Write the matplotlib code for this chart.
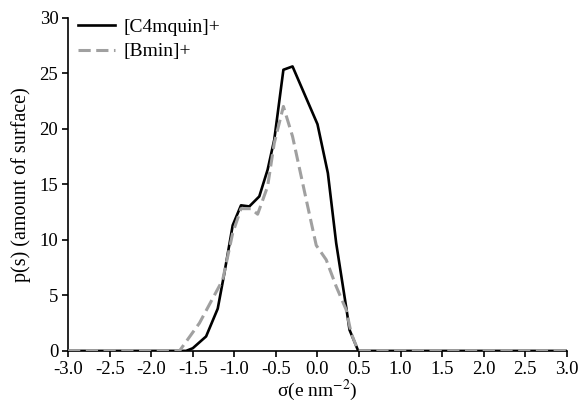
import numpy as np
import matplotlib
matplotlib.use("Agg")
import matplotlib.pyplot as plt

plt.rcParams['font.family'] = ['Liberation Serif', 'DejaVu Serif']
plt.rcParams['mathtext.fontset'] = 'stix'
plt.rcParams['axes.unicode_minus'] = False

# sigma profile values
sigma_c4 = [-3.0, -1.66, -1.58, -1.50, -1.34, -1.20, -1.12, -1.02, -0.92, -0.82,
            -0.70, -0.60, -0.52, -0.41, -0.30, 0.0, 0.125, 0.225, 0.35, 0.385, 0.49, 3.0]
p_c4 = [0.0, 0.0, 0.0, 0.24, 1.3, 3.8, 7.0, 11.3, 13.1, 13.0,
        13.9, 16.3, 19.0, 25.3, 25.6, 20.4, 16.0, 9.7, 3.7, 1.9, 0.0, 0.0]

sigma_bm = [-3.0, -1.66, -1.42, -1.14, -1.02, -0.92, -0.80, -0.72, -0.60, -0.52,
            -0.41, -0.30, -0.135, -0.015, 0.105, 0.225, 0.345, 0.405, 0.49, 3.0]
p_bm = [0.0, 0.0, 2.5, 6.4, 10.6, 12.8, 12.8, 12.3, 14.8, 18.7,
        22.0, 19.3, 13.6, 9.5, 8.2, 5.8, 3.7, 1.6, 0.0, 0.0]

xticks = np.arange(-3.0, 3.01, 0.5)
yticks = [0, 5, 10, 15, 20, 25, 30]

fig = plt.figure(figsize=(5.82, 4.08), dpi=100)
ax = fig.add_axes([0.117, 0.14, 0.857, 0.817])

ax.plot(sigma_c4, p_c4, color='black', lw=1.9, label='[C4mquin]+', zorder=3)
ax.plot(sigma_bm, p_bm, color='#a0a0a0', lw=2.2, ls=(0, (4, 1.8)),
        label='[Bmin]+', zorder=4)

ax.set_xlim(-3.0, 3.0)
ax.set_ylim(0, 30)
ax.set_xticks(xticks)
ax.set_xticklabels(['%.1f' % t for t in xticks])
ax.set_yticks(yticks)
for s in ['top', 'right']:
    ax.spines[s].set_visible(False)
for s in ['left', 'bottom']:
    ax.spines[s].set_linewidth(1.2)
ax.tick_params(direction='out', length=4, width=1.2, labelsize=13.5)
ax.tick_params(axis='x', pad=3)
ax.tick_params(axis='y', pad=3)

ax.set_xlabel(r'σ(e nm$^{-2}$)', fontsize=14, labelpad=0)
ax.set_ylabel('p(s) (amount of surface)', fontsize=14.5, labelpad=6)

ax.legend(loc='upper left', bbox_to_anchor=(-0.015, 1.05), frameon=False,
          fontsize=14, handlelength=1.9, handletextpad=0.45, labelspacing=0.35)

fig.savefig('out.png', dpi=100)
